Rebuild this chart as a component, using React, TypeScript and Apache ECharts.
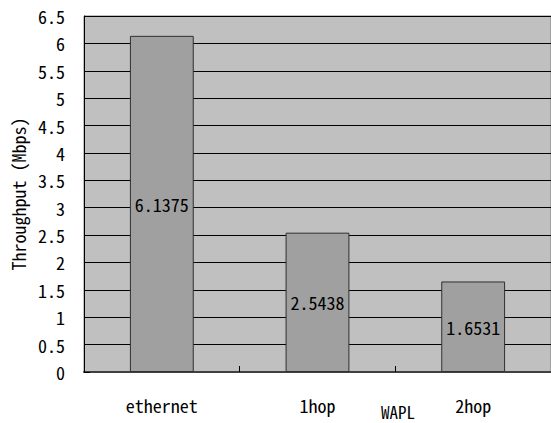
import React, { useEffect, useRef } from "react";
import * as echarts from "echarts";

const categories = ["ethernet", "1hop", "2hop"];
const throughput = [6.1375, 2.5438, 1.6531];
const yAxisTitle = "Throughput (Mbps)";
const xAxisTitle = "WAPL";

const FONT = "'Noto Sans Mono CJK JP', 'DejaVu Sans Mono', monospace";
const FS = 18;

export default function App() {
  const ref = useRef<HTMLDivElement>(null);
  useEffect(() => {
    if (!ref.current) return;
    const chart = echarts.init(ref.current, null, { renderer: "svg" });
    chart.setOption({
      animation: false,
      backgroundColor: "#ffffff",
      textStyle: { fontFamily: FONT },
      grid: {
        left: 84,
        top: 16,
        bottom: 51,
        right: -3,
        show: true,
        backgroundColor: "#c0c0c0",
        borderColor: "#808080",
        borderWidth: 1,
      },
      xAxis: {
        type: "category",
        data: categories,
        axisLine: { show: true, lineStyle: { color: "#404040", width: 2 } },
        axisTick: { show: true, inside: true, length: 6, lineStyle: { color: "#000" } },
        axisLabel: { color: "#000", fontSize: FS, fontFamily: FONT, margin: 24 },
        splitLine: { show: false },
      },
      yAxis: {
        type: "value",
        min: 0,
        max: 6.5,
        interval: 0.5,
        name: yAxisTitle,
        nameLocation: "middle",
        nameGap: 52,
        nameTextStyle: { color: "#000", fontSize: FS, fontFamily: FONT },
        axisLine: { show: true, lineStyle: { color: "#000", width: 1 } },
        axisTick: { show: true, inside: true, length: 6, lineStyle: { color: "#000" } },
        axisLabel: {
          color: "#000",
          fontSize: FS,
          fontFamily: FONT,
          margin: 19,
          padding: [5, 0, 0, 0],
        },
        splitLine: { show: true, lineStyle: { color: "#000", width: 1 } },
      },
      series: [
        {
          type: "bar",
          data: throughput,
          barWidth: "41%",
          itemStyle: { color: "#a0a0a0", borderColor: "#303030", borderWidth: 1 },
          label: {
            show: true,
            position: "inside",
            color: "#000",
            fontSize: FS,
            fontFamily: FONT,
            formatter: (p: any) => String(p.value),
          },
        },
      ],
      graphic: [
        {
          type: "text",
          x: 398,
          y: 411,
          style: {
            text: xAxisTitle,
            fill: "#000",
            fontSize: 17,
            lineHeight: 17,
            fontFamily: FONT,
            textAlign: "center",
            textVerticalAlign: "middle",
          },
        },
      ],
    });
    return () => chart.dispose();
  }, []);
  return (
    <div
      ref={ref}
      style={{ position: "fixed", left: 0, top: 0, width: 551, height: 423 }}
    />
  );
}
